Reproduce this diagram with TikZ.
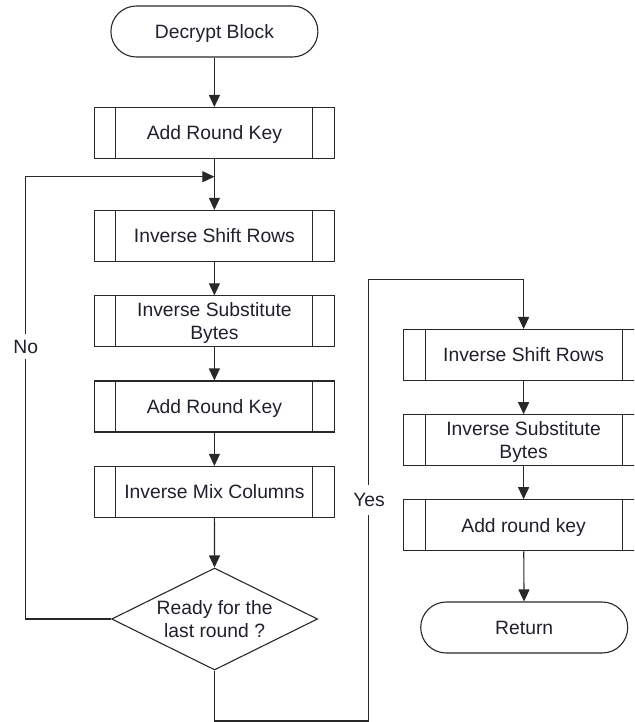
\documentclass[tikz,border=0pt]{standalone}
\usepackage{fontspec}
\setmainfont{Liberation Sans}
\usetikzlibrary{arrows.meta,shapes.geometric}

\definecolor{ink}{RGB}{32,32,44}
\definecolor{edge}{RGB}{40,40,40}

\tikzset{
  every node/.style={font=\fontsize{19.3}{23}\selectfont, text=ink, text depth=0pt},
  terminal/.style={draw=edge, line width=1.1pt, rectangle, rounded corners=25.5pt,
    minimum width=207pt, minimum height=51pt, inner sep=0pt},
  subproc/.style={draw=edge, line width=1.1pt, rectangle, align=center,
    minimum width=240pt, minimum height=51pt, inner sep=0pt,
    path picture={
      \draw[edge, line width=1.1pt]
        ([xshift=21.5pt]path picture bounding box.north west) --
        ([xshift=21.5pt]path picture bounding box.south west)
        ([xshift=-21.5pt]path picture bounding box.north east) --
        ([xshift=-21.5pt]path picture bounding box.south east);
    }},
  decision/.style={draw=edge, line width=1.1pt, diamond, shape aspect=2, align=center,
    minimum width=206pt, minimum height=102pt, inner sep=0pt},
  flow/.style={draw=edge, line width=1.1pt},
  arr/.style={flow, -{Triangle[length=12pt,width=11pt]}},
  cut/.style={fill=white, inner sep=0pt}
}

\begin{document}
\begin{tikzpicture}[x=1pt, y=-1pt]
  \useasboundingbox (0,0) rectangle (634,722);
  \clip (0,0) rectangle (634,722);

  % main column
  \node[terminal] (start) at (214.4,31.5) {Decrypt Block};
  \node[subproc] (ark1) at (214.4,133) {Add Round Key};
  \node[subproc] (isr1) at (214.4,236) {Inverse Shift Rows};
  \node[subproc] (isb1) at (214.4,321.4) {Inverse Substitute\\Bytes};
  \node[subproc] (ark2) at (214.4,406.5) {Add Round Key};
  \node[subproc] (imc) at (214.4,492) {Inverse Mix Columns};
  \node[decision] (dec) at (214.6,619) {Ready for the\\last round ?};

  % final round column
  \node[subproc] (isr2) at (523.6,355) {Inverse Shift Rows};
  \node[subproc] (isb2) at (523.6,440.2) {Inverse Substitute\\Bytes};
  \node[subproc] (ark3) at (523.6,525.2) {Add round key};
  \node[terminal] (ret) at (524.2,627.5) {Return};

  % routing points
  \coordinate (merge) at (214.4,176.7);
  \coordinate (loopc) at (25.7,176.7);
  \coordinate (ybot) at (368.3,721);
  \coordinate (ytop) at (368.3,279.3);

  % straight flow
  \draw[arr] (start) -- (ark1);
  \draw[flow] (ark1) -- (merge);
  \draw[arr] (merge) -- (isr1);
  \draw[arr] (isr1) -- (isb1);
  \draw[arr] (isb1) -- (ark2);
  \draw[arr] (ark2) -- (imc);
  \draw[arr] (imc) -- (dec);

  % loop back for another round
  \draw[arr] (dec.west) -| (loopc) -- (merge);
  \node[cut, minimum height=25pt] (nolab) at (25.7,346.7) {No};

  % exit to the last round
  \draw[arr] (dec.south) |- (ybot) -- (ytop) -| (isr2.north);
  \node[cut, minimum height=30pt] (yeslab) at (369,500) {Yes};

  \draw[arr] (isr2) -- (isb2);
  \draw[arr] (isb2) -- (ark3);
  \draw[arr] (ark3) -- (ret);
\end{tikzpicture}
\end{document}
